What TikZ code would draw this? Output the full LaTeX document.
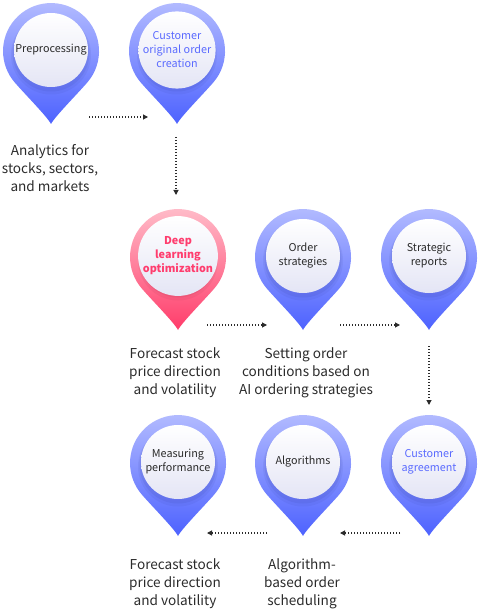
\documentclass[tikz,border=0pt]{standalone}
\usepackage{fontspec}
\setmainfont{Noto Sans CJK KR}
\usetikzlibrary{arrows.meta}
\definecolor{bluetop}{HTML}{B6BEFF}
\definecolor{bluemid}{HTML}{7282FF}
\definecolor{bluebot}{HTML}{4D62FF}
\definecolor{pinktop}{HTML}{FFC0CC}
\definecolor{pinkmid}{HTML}{FF7896}
\definecolor{pinkbot}{HTML}{FF3C6A}
\definecolor{txt}{HTML}{2B2B2B}
\definecolor{accblue}{HTML}{5B6BFF}
\definecolor{accpink}{HTML}{FF3D6E}
\definecolor{innerbot}{HTML}{E4E5F5}
\tikzset{
 pinanchor/.style={circle, minimum size=96pt, inner sep=0pt},
 innercirc/.style={circle, minimum size=74pt, inner sep=0pt, top color=white, bottom color=innerbot, align=center, font=\fontsize{10.8}{14}\selectfont, text=txt},
 caption/.style={align=center, font=\fontsize{13.6}{18}\selectfont, text=txt},
 flow/.style={draw=txt, line width=1.1pt, dash pattern=on 1.1pt off 1.9pt, -{Triangle[length=5pt,width=5pt]}},
}
\newcommand\pinbody[4]{%
 \begin{scope}[shift={(#1.center)}]
 \shade[top color=#2, middle color=#3, bottom color=#4]
   (36.2,-31.6) arc[start angle=-41.1, end angle=221.1, radius=48]
   .. controls (-26.1,-43.2) and (-3.5,-66) .. (0,-73)
   .. controls (3.5,-66) and (26.1,-43.2) .. cycle;
 \fill[#4!60!black, opacity=0.08] (0,-3.5) circle (40);
 \fill[#4!60!black, opacity=0.10] (0,-2) circle (38.5);
 \end{scope}}
\begin{document}
\begin{tikzpicture}[x=1pt,y=1pt]
\useasboundingbox (0,0) rectangle (481,-612);
% pin anchors
\node[pinanchor] (p1) at (51,-51) {};
\node[pinanchor] (p2) at (177,-51) {};
\node[pinanchor] (p3) at (178,-257) {};
\node[pinanchor] (p4) at (303,-257) {};
\node[pinanchor] (p5) at (429,-257) {};
\node[pinanchor] (p6) at (178,-463) {};
\node[pinanchor] (p7) at (303,-463) {};
\node[pinanchor] (p8) at (429,-463) {};
\pinbody{p1}{bluetop}{bluemid}{bluebot}
\pinbody{p2}{bluetop}{bluemid}{bluebot}
\pinbody{p3}{pinktop}{pinkmid}{pinkbot}
\pinbody{p4}{bluetop}{bluemid}{bluebot}
\pinbody{p5}{bluetop}{bluemid}{bluebot}
\pinbody{p6}{bluetop}{bluemid}{bluebot}
\pinbody{p7}{bluetop}{bluemid}{bluebot}
\pinbody{p8}{bluetop}{bluemid}{bluebot}
% inner circles
\node[innercirc] (t1) at (51,-50) {Preprocessing};
\node[innercirc, text=accblue] (t2) at (177,-50) {Customer\\original order\\creation};
\node[innercirc, text=accpink, font=\fontsize{10.8}{14}\selectfont\bfseries] (t3) at (178,-256) {Deep\\learning\\optimization};
\node[innercirc] (t4) at (303,-256) {Order\\strategies};
\node[innercirc] (t5) at (429,-256) {Strategic\\reports};
\node[innercirc] (t6) at (178,-462) {Measuring\\performance};
\node[innercirc] (t7) at (303,-462) {Algorithms};
\node[innercirc, text=accblue] (t8) at (429,-462) {Customer\\agreement};
% captions
\node[caption] (c1) at (50,-168) {Analytics for\\stocks, sectors,\\and markets};
\node[caption] (c3) at (175,-373) {Forecast stock\\price direction\\and volatility};
\node[caption] (c4) at (306,-373) {Setting order\\conditions based on\\AI ordering strategies};
\node[caption] (c6) at (175,-584) {Forecast stock\\price direction\\and volatility};
\node[caption] (c7) at (302,-584) {Algorithm-\\based order\\scheduling};
% arrow endpoints
\coordinate (a1s) at (89,-117);  \coordinate (a1e) at (148,-117);
\coordinate (a2s) at (176,-137); \coordinate (a2e) at (176,-195);
\coordinate (a3s) at (207,-325); \coordinate (a3e) at (267,-325);
\coordinate (a4s) at (340,-325); \coordinate (a4e) at (400,-325);
\coordinate (a5s) at (429,-346); \coordinate (a5e) at (429,-405);
\coordinate (a6s) at (400,-533); \coordinate (a6e) at (340,-533);
\coordinate (a7s) at (267,-533); \coordinate (a7e) at (207,-533);
\draw[flow] (a1s) -- (a1e);
\draw[flow] (a2s) -- (a2e);
\draw[flow] (a3s) -- (a3e);
\draw[flow] (a4s) -- (a4e);
\draw[flow] (a5s) -- (a5e);
\draw[flow] (a6s) -- (a6e);
\draw[flow] (a7s) -- (a7e);
\end{tikzpicture}
\end{document}
